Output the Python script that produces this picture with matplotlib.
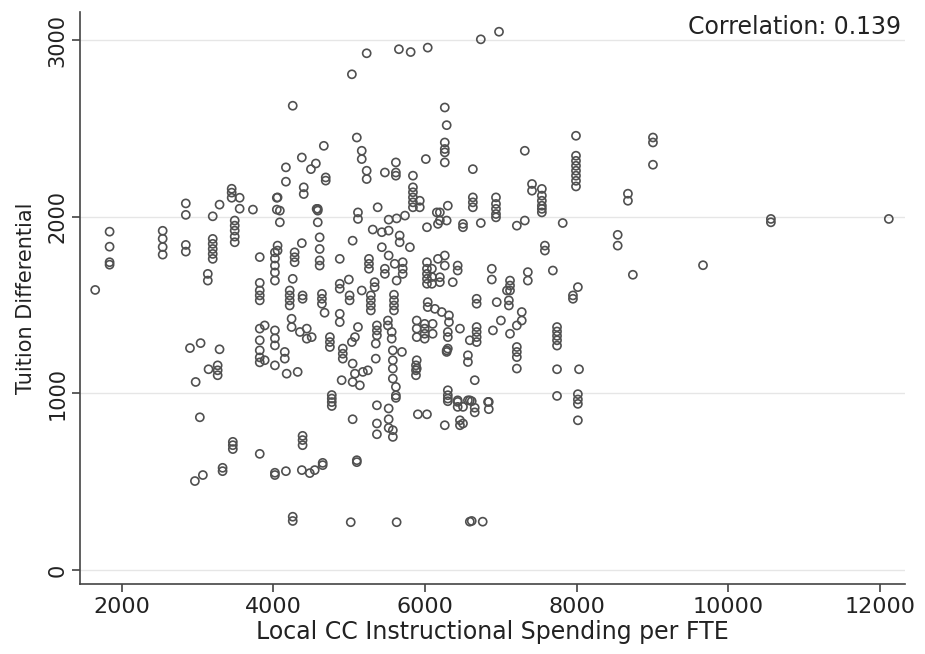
import matplotlib
matplotlib.use("Agg")
import matplotlib.pyplot as plt

spending = [
    1650, 1840, 1840, 1840, 1840,
    2540, 2540, 2540, 2540, 2845, 2845, 2845, 2845,
    3200, 3200, 3200, 3200, 3200, 3200, 3135, 3135, 3290,
    3450, 3450, 3450, 3555, 3555, 3490, 3490, 3490, 3490, 3490,
    3730, 4045, 4045, 3820, 3820, 3820, 3820, 3820,
    2900, 3040, 3290, 3145, 3265, 3265, 3265, 2975,
    3820, 3820, 3820, 3820, 3820, 3885, 3885,
    4020, 4020, 4020, 4020, 4020, 4020, 4020, 4020, 4020,
    3030, 3465, 3465, 3465, 3820, 3330, 3330, 3070, 2965, 4020, 4020,
    4165, 4375, 4480, 4545, 4650, 4650, 4385, 4385, 4385,
    5100, 5100, 5045, 4770, 4770, 4770, 4770, 5365, 5365, 5365,
    5520, 5520, 5520, 5575, 5575, 5615, 4255, 4255, 5020, 5625,
    5905, 6025, 6260, 6300, 6300, 6430, 6430, 6460, 6460, 6565, 6590,
    6615, 6760, 6500, 6500, 6615, 6655, 6655, 6840, 6840, 7740,
    8015, 8015, 8015, 8015, 9665, 9005, 9005, 9005, 10560, 10560, 12115,
    7815, 8540, 8540, 8740, 7685, 8015, 7950, 7950,
    7740, 7740, 7740, 7740, 7740, 7740, 8030, 8675, 8675,
    6735, 6975, 7990, 7990, 7990, 7990, 7990, 7990, 7990, 7990,
    7315, 6630, 6630, 6630, 6630, 6935, 6935, 6935,
    7410, 7410, 7540, 7540, 7540, 7540, 7540,
    5230, 5035, 5655, 5810, 6035, 4255, 6260, 6285,
    6260, 6260, 6260, 6260, 5100, 5165, 5165,
    4665, 4375, 4560, 4495, 4165, 4165, 4690, 4690, 5230, 5230, 5470,
    5615, 5615, 5615, 5840, 6010, 4055, 4085, 4400, 4400, 4570, 5115, 5375,
    5840, 5840, 5840, 5840, 5840, 5930, 5930, 6155, 6300,
    4085, 4585, 4585, 4585, 5115, 5310, 5430, 5520, 5520, 5625, 5735, 5665, 5665, 5800,
    4055, 4055, 4280, 4280, 4280, 4375, 4610, 4610, 4610, 4610, 4875, 5045,
    5260, 5260, 5260, 5430, 5520, 5470, 5470, 5600, 5705, 5705, 5705, 5625,
    4255, 4215, 4215, 4215, 4215, 4385, 4385,
    4640, 4640, 4640, 4675, 4875, 4875, 4995, 5005, 5005, 5165,
    5285, 5285, 5285, 5285, 5335, 5335, 5590, 5590, 5590, 5590,
    4875, 4875, 4240, 4240, 4350, 4440, 4440, 4505,
    4745, 4745, 4745, 5115, 5075, 5035, 4915, 4915, 4915, 5045, 5075, 5180, 5245,
    5365, 5365, 5365, 5350, 5350, 5510, 5510, 5560, 5560, 5575, 5575, 5575, 5575, 5695, 5615, 5615,
    5890, 5890, 5890, 5890, 5890, 4150, 4150, 4320, 4175, 4900, 5045, 5140,
    6195, 6195, 6285, 6170, 6025, 6500, 6500, 6735, 6935, 6935, 7210, 7315, 7540,
    6260, 6260, 6170, 6025, 6025, 6025, 6025, 6025, 6090, 6090, 6090, 6195, 6195, 6365, 6430, 6430,
    6880, 6880, 7120, 7120, 7120, 7080, 7355, 7355, 7580, 7580,
    6680, 6680, 6945, 7105, 7105, 6035, 6035, 6130, 6220, 6315, 6315,
    5995, 5995, 5995, 5995, 6100, 6100, 6300, 6300, 6300, 6460, 6680, 6680, 6680, 6680, 6590, 6895, 7000, 7120, 7210, 7275, 7275,
    7210, 7210, 7210, 7210, 5880, 5880, 5880, 6285, 6285, 6565, 6565, 6655, 6300, 6300, 6430, 6590, 6830,
]

tuition_diff = [
    1585, 1915, 1830, 1742, 1728,
    1920, 1875, 1828, 1785, 2075, 2010, 1840, 1802,
    2002, 1874, 1846, 1817, 1789, 1761, 1676, 1638, 2068,
    2158, 2136, 2107, 2107, 2045, 1978, 1949, 1921, 1887, 1855,
    2040, 2107, 2040, 1771, 1625, 1582, 1554, 1526,
    1256, 1284, 1249, 1136, 1158, 1130, 1102, 1064,
    1366, 1300, 1243, 1203, 1175, 1384, 1187,
    1356, 1311, 1271, 1158, 1798, 1763, 1723, 1684, 1638,
    864, 725, 706, 684, 657, 578, 559, 537, 503, 550, 537,
    559, 565, 548, 565, 593, 606, 759, 735, 706,
    621, 610, 853, 990, 970, 950, 928, 932, 829, 768,
    914, 853, 804, 791, 753, 974, 301, 277, 270, 270,
    881, 881, 819, 970, 955, 951, 923, 847, 819, 960, 273,
    277, 273, 829, 923, 955, 918, 892, 951, 910, 985,
    995, 965, 940, 847, 1725, 2448, 2420, 2294, 1987, 1968, 1987,
    1964, 1897, 1836, 1671, 1695, 1601, 1554, 1535,
    1375, 1350, 1325, 1300, 1270, 1136, 1136, 2130, 2090,
    3004, 3047, 2458, 2345, 2316, 2288, 2260, 2232, 2203, 2171,
    2373, 2269, 2109, 2081, 2053, 2109, 2072, 2044,
    2185, 2147, 2157, 2119, 2090, 2062, 2024,
    2925, 2806, 2948, 2932, 2957, 2628, 2618, 2518,
    2420, 2383, 2364, 2307, 2448, 2373, 2326,
    2401, 2335, 2301, 2269, 2279, 2198, 2222, 2204, 2260, 2213, 2250,
    2307, 2250, 2232, 2232, 2326, 2109, 2034, 2166, 2128, 2044, 2024, 2053,
    2166, 2138, 2109, 2081, 2053, 2090, 2053, 2024, 2062,
    1968, 2044, 2034, 1968, 1987, 1927, 1912, 1983, 1921, 1990, 2006, 1893, 1855, 1827,
    1836, 1808, 1798, 1770, 1742, 1850, 1883, 1817, 1752, 1723, 1761, 1864,
    1761, 1733, 1705, 1827, 1780, 1705, 1676, 1733, 1742, 1705, 1676, 1638,
    1648, 1582, 1554, 1526, 1497, 1554, 1535,
    1563, 1535, 1507, 1456, 1620, 1592, 1644, 1554, 1526, 1582,
    1554, 1526, 1497, 1469, 1629, 1601, 1558, 1526, 1497, 1469,
    1450, 1403, 1422, 1375, 1347, 1366, 1309, 1318,
    1318, 1290, 1262, 1375, 1318, 1290, 1253, 1224, 1196, 1168, 1111, 1121, 1130,
    1384, 1356, 1328, 1281, 1196, 1412, 1384, 1347, 1309, 1243, 1187, 1140, 1083, 1234, 1036, 988,
    1412, 1366, 1318, 1187, 1140, 1234, 1196, 1121, 1111, 1074, 1064, 1045,
    2024, 1978, 1978, 1959, 1940, 1959, 1940, 1964, 2015, 1996, 1949, 1978, 2044,
    1780, 1723, 1761, 1742, 1705, 1676, 1648, 1620, 1705, 1658, 1620, 1657, 1629, 1629, 1723, 1695,
    1705, 1644, 1638, 1610, 1582, 1582, 1686, 1638, 1836, 1808,
    1535, 1507, 1516, 1526, 1497, 1516, 1488, 1478, 1460, 1441, 1403,
    1393, 1366, 1337, 1309, 1393, 1337, 1347, 1318, 1253, 1366, 1375, 1347, 1318, 1290, 1300, 1356, 1412, 1337, 1384, 1460, 1412,
    1262, 1234, 1205, 1140, 1158, 1130, 1102, 1243, 1234, 1177, 1215, 1074, 1017, 989, 960, 960, 951,
]

x_ticks = [2000, 4000, 6000, 8000, 10000, 12000]
y_ticks = [0, 1000, 2000, 3000]
x_label = "Local CC Instructional Spending per FTE"
y_label = "Tuition Differential"
note = "Correlation: 0.139"

assert len(spending) == len(tuition_diff), (len(spending), len(tuition_diff))

plt.rcParams["font.family"] = ["DejaVu Sans"]

fig = plt.figure(figsize=(9.25, 6.54), dpi=100)
ax = fig.add_axes([0.0865, 0.107, 0.892, 0.875])

ax.scatter(spending, tuition_diff, s=34, facecolors="none",
           edgecolors="#505050", linewidths=1.2, zorder=3)

ax.set_xlim(1450, 12330)
ax.set_ylim(-80, 3160)
ax.set_xticks(x_ticks)
ax.set_yticks(y_ticks)
ax.set_xticklabels([str(v) for v in x_ticks], fontsize=16)
ax.set_yticklabels([str(v) for v in y_ticks], fontsize=15, rotation=90, va="center")

ax.yaxis.grid(True, color="#e6e6e6", linewidth=1.0, zorder=0)
ax.set_axisbelow(True)
for side in ("top", "right"):
    ax.spines[side].set_visible(False)
for side in ("left", "bottom"):
    ax.spines[side].set_color("#444444")
    ax.spines[side].set_linewidth(1.2)
ax.tick_params(axis="both", colors="#333333", length=6, width=1.1, direction="out")
ax.tick_params(axis="both", labelcolor="#222222")
ax.tick_params(axis="y", pad=3)

ax.set_xlabel(x_label, fontsize=17, color="#222222", labelpad=2)
ax.set_ylabel(y_label, fontsize=15, color="#222222", labelpad=8)

ax.text(0.995, 0.995, note, transform=ax.transAxes, ha="right", va="top",
        fontsize=17, color="#222222")

fig.savefig("out.png", dpi=100)
